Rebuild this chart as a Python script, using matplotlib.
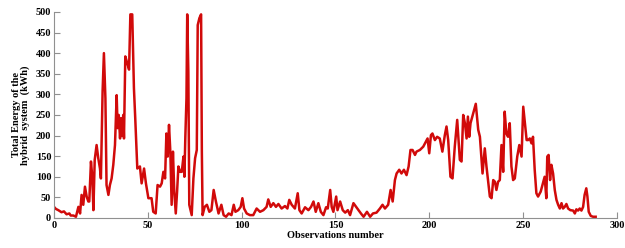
import numpy as np
import matplotlib
matplotlib.use("Agg")
import matplotlib.pyplot as plt

obs = [0, 1, 2.3, 4, 5.3, 6.7, 8.2, 8.9, 10.3, 11.7, 13, 13.9, 14.7, 15.6, 16.5, 17.4, 18.3, 18.8,
       19.7, 20.4, 21, 21.7, 22.7, 23.6, 24.5, 25, 25.9, 26.6, 27.4, 28, 29, 29.8, 30.7, 31.6,
       32.5, 33.4, 33.9, 34.5, 35.2, 35.7, 36.2, 36.9, 37.3, 38, 39.1, 40, 40.7, 41.7, 42.6,
       43.3, 44.4, 45.8, 46.7, 48, 49, 50.3,
       52, 52.9, 54.2, 55.2, 56.5, 57.4, 58.3, 59.2, 59.9, 60.6, 61.3, 62, 62.7, 63.4, 64.1,
       64.9, 65.6, 66.3, 67.2, 68.1, 69, 69.5, 70, 70.6, 71, 71.6, 72.1, 73.4, 74.3, 75.2,
       76.1, 76.6, 77.5, 78.4, 78.8, 79.2, 80.3, 81.5, 82.8, 83.9, 85.1, 86.3, 87.7, 89.2,
       90.4, 91.7, 93.1, 94.6, 95.8, 96.7, 98.2, 99.5, 100.4, 101.3,
       102.7, 104.4, 106.2, 108, 109.8, 111.6, 113.3, 114.2, 115.5, 116.9, 118.3, 119.6,
       121.3, 123.1, 124.4, 125.4, 126.7, 128.4, 129.9, 130.8, 132, 133.8, 135.6, 137,
       138.3, 139.5, 140.9, 142.2, 143.6, 145, 145.9, 147.2, 148, 148.9, 150.4, 151.1,
       152.5, 153.9, 155.2, 156.6, 157.8, 159.6, 161, 162.3, 163.6, 165, 166.8, 168.5, 170,
       171.9, 173.7, 175.1, 176.4, 178.1, 179.4, 180.5, 181.7, 182.6, 184, 185.2, 186.5,
       187.9, 189, 190, 191.1, 192.4, 193.2, 195, 196.8, 198.2, 199.1, 200, 200.9,
       201.7, 203, 204.2, 205.6, 207, 208.3, 209.2, 210.1, 211.3, 212.4, 213.6, 214.9,
       216.3, 217.2, 218.1, 219, 219.9, 220.6, 221.3, 222, 223.4, 224.8, 226.1, 227, 228.4,
       229.6, 230.5, 231.4, 232.3, 233.2, 234.1, 235, 235.8, 236.7, 237.6, 238.5, 239.4,
       240.2, 241.1, 242, 242.9, 243.8, 244.7, 245.6, 246.9, 248, 249.2, 250.1, 251, 251.9,
       252.7, 253.6, 254.5, 255.3, 256.2, 257.1, 258, 259.4, 260.6, 261.5, 262.4, 262.9,
       263.6, 264.4, 265.1, 266, 266.9, 267.8, 268.7, 269.6, 270.5, 271.3, 272.2, 273.1,
       274, 275.2, 276.7, 277.6, 278.4, 279.3, 280.2, 281.1, 282, 282.8, 283.7, 284.3, 285,
       286.1, 287.3, 288.7]

energy = [27, 22, 19, 14, 16, 9, 11, 6, 6, 3, 27, 11, 56, 32, 76, 52, 40, 40,
          137, 100, 19, 141, 177, 145, 120, 96, 307, 400, 290, 80, 56, 80, 96, 129,
          177, 298, 218, 250, 193, 242, 200, 250, 193, 392, 375, 360, 494, 494, 315,
          242, 120, 125, 84, 120, 84, 48,
          48, 15, 11, 80, 76, 84, 112, 96, 205, 149, 226, 161, 32, 161, 64,
          11, 64, 125, 112, 112, 149, 100, 197, 290, 494, 355, 32, 7, 96, 145,
          165, 468, 485, 494, 161, 7, 27, 32, 15, 19, 68, 40, 11, 32,
          7, 3, 11, 7, 32, 15, 19, 27, 48, 23,
          11, 7, 7, 23, 15, 19, 27, 45, 27, 36, 27, 34,
          23, 29, 23, 44, 32, 23, 60, 19, 11, 26, 19, 27,
          40, 15, 36, 15, 7, 26, 23, 68, 27, 15, 52, 19,
          40, 19, 13, 19, 7, 36, 27, 19, 11, 3, 15, 3, 11,
          13, 23, 32, 23, 32, 68, 40, 92, 108, 117, 108, 117,
          104, 125, 165, 165, 153, 161, 165, 173, 185, 193, 157, 201,
          205, 189, 197, 193, 161, 201, 222, 189, 100, 96, 173, 238,
          141, 137, 250, 230, 193, 246, 197, 230, 254, 277, 214, 197, 108,
          169, 125, 88, 52, 48, 92, 88, 68, 88, 92, 177, 112,
          258, 205, 197, 230, 125, 92, 96, 149, 177, 149, 270, 230, 189,
          189, 193, 181, 197, 117, 60, 52, 64, 84, 100, 48, 149,
          153, 92, 129, 108, 68, 44, 32, 23, 36, 23, 27, 34,
          23, 19, 18, 11, 21, 18, 23, 18, 27, 56, 72, 52, 15,
          5, 3, 3]

xticks = np.arange(0, 301, 50)
yticks = np.arange(0, 501, 50)

fig = plt.figure(figsize=(6.25, 2.48), dpi=100)
ax = fig.add_axes([0.0864, 0.121, 0.9006, 0.831])
ax.plot(obs, energy, color="#d10a0a", lw=1.8)

ax.set_xlim(0, 300)
ax.set_ylim(0, 500)
ax.set_xticks(xticks)
ax.set_yticks(yticks)
for s in ["top", "right"]:
    ax.spines[s].set_visible(False)
for s in ["left", "bottom"]:
    ax.spines[s].set_color("#909090")
ax.tick_params(direction="in", color="#909090", length=4, width=0.8, pad=2)
for lab in ax.get_xticklabels() + ax.get_yticklabels():
    lab.set_fontfamily("Liberation Serif")
    lab.set_fontweight("bold")
    lab.set_fontsize(7.5)

ax.set_xlabel("Observations number", fontfamily="Liberation Serif",
              fontweight="bold", fontsize=7.5, labelpad=1)
ax.set_ylabel("Total Energy of the\nhybrid  system  (kWh)", fontfamily="Liberation Serif",
              fontweight="bold", fontsize=7.5, labelpad=4, linespacing=1.0)

fig.savefig("out.png", dpi=100)
